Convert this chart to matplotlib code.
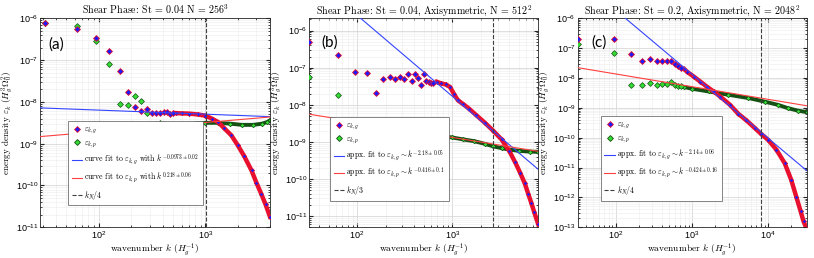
import numpy as np
import matplotlib
matplotlib.use("Agg")
import matplotlib.pyplot as plt
from matplotlib.lines import Line2D
from matplotlib.ticker import LogLocator, NullFormatter, FixedLocator

plt.rcParams["font.family"] = ["Liberation Sans", "DejaVu Sans"]
plt.rcParams["mathtext.fontset"] = "cm"
plt.rcParams["axes.formatter.use_mathtext"] = True

K0 = 10 * np.pi  # lowest shell wavenumber

# ---------------- panel (a): St = 0.04, N = 256^3 (shells n = 1..16, then dense part)
a_gas_low = [7.8e-7, 5.6e-7, 3.4e-7, 1.64e-7, 5.5e-8, 1.68e-8, 7.6e-9, 6.2e-9,
             6.6e-9, 5.5e-9, 5.3e-9, 5.5e-9, 5.8e-9, 5.7e-9, 5.0e-9, 5.5e-9]
a_prs_low = [7.6e-7, 6.6e-7, 2.85e-7, 7.9e-8, 9.0e-9, 8.2e-9, 1.35e-8, 1.05e-8,
             5.4e-9, 2.6e-9, 3.0e-9, 3.2e-9, 2.95e-9, 2.6e-9, 2.3e-9, 2.8e-9]
a_gas_k = [530, 600, 700, 850, 1000, 1150, 1310, 1500, 1750, 2000, 2300, 2700,
           3000, 3330, 3650, 4021]
a_gas = [5.4e-9, 5.3e-9, 5.25e-9, 5.0e-9, 4.68e-9, 3.98e-9, 3.31e-9, 2.34e-9,
         1.58e-9, 9.3e-10, 5.1e-10, 2.29e-10, 1.17e-10, 6.3e-11, 3.55e-11, 1.78e-11]
a_prs_k = [530, 600, 700, 850, 1000, 1300, 1700, 2200, 2800, 3400, 3800, 4021]
a_prs = [2.82e-9, 2.88e-9, 2.95e-9, 3.09e-9, 3.16e-9, 3.16e-9, 3.02e-9, 2.82e-9,
         2.82e-9, 3.02e-9, 3.31e-9, 3.63e-9]

# ---------------- panel (b): St = 0.04, axisymmetric, N = 512^2
b_gas_low = [4.8e-7, 2.2e-7, 7.9e-8, 7.4e-8, 2.07e-8, 5.0e-8, 5.6e-8, 5.0e-8,
             5.8e-8, 4.9e-8, 6.9e-8, 4.3e-8, 6.9e-8, 5.2e-8, 3.5e-8, 6.9e-8,
             4.5e-8, 4.0e-8, 3.85e-8, 3.85e-8]
b_prs_low = [5.8e-8, 1.8e-8, 1.28e-9, 1.39e-9, 1.1e-9, 9.2e-10, 2.2e-9, 1.57e-9,
             1.64e-9, 1.7e-9, 1.8e-9, 1.64e-9, 1.7e-9, 1.64e-9, 1.64e-9, 2.4e-9,
             1.41e-9, 1.41e-9, 1.41e-9, 1.5e-9]
b_gas_k = [690, 760, 850, 950, 1050, 1150, 1300, 1500, 1800, 2200, 2700, 3300,
           4000, 4600, 5200, 5800, 6300, 6800, 7300, 8040]
b_gas = [4.17e-8, 3.8e-8, 3.55e-8, 3.02e-8, 1.9e-8, 1.32e-8, 1.05e-8, 7.9e-9,
         5.2e-9, 3.3e-9, 2.0e-9, 1.17e-9, 5.6e-10, 2.8e-10, 1.45e-10, 7.6e-11,
         4.0e-11, 2.24e-11, 1.26e-11, 6.0e-12]
b_prs_k = [700, 850, 1000, 1300, 1700, 2200, 2700, 3300, 4000, 5000, 6500, 8040]
b_prs = [1.45e-9, 1.38e-9, 1.32e-9, 1.17e-9, 1.05e-9, 8.9e-10, 7.6e-10, 6.8e-10,
         6.2e-10, 5.75e-10, 5.5e-10, 5.4e-10]

# ---------------- panel (c): St = 0.2, axisymmetric, N = 2048^2 (shells at odd multiples of K0)
c_gas_low = [2.1e-7, 2.0e-7, 6.3e-8, 3.8e-8, 4.25e-8, 3.65e-8, 3.65e-8, 3.65e-8,
             3.8e-8, 2.9e-8, 2.54e-8, 2.23e-8]
c_prs_low = [1.38e-7, 7.1e-8, 5.9e-9, 5.9e-9, 6.8e-9, 6.0e-9, 6.2e-9, 6.3e-9,
             7.4e-9, 5.8e-9, 5.5e-9, 5.4e-9]
c_gas_k = [790, 861, 1052, 1285, 1570, 1919, 2344, 3162, 4064, 5200, 6699, 8000,
           10000, 12850, 16520, 20140, 23440, 26730, 29240, 32120]
c_gas = [2.0e-8, 1.62e-8, 1.12e-8, 7.6e-9, 5.1e-9, 3.55e-9, 2.4e-9, 1.26e-9,
         6.3e-10, 3.8e-10, 2.1e-10, 1.38e-10, 8.5e-11, 4.0e-11, 1.41e-11, 3.9e-12,
         1.07e-12, 3.5e-13, 1.58e-13, 8.9e-14]
c_prs_k = [790, 1000, 1650, 3000, 5500, 9000, 13500, 18200, 24500, 32120]
c_prs = [5.0e-9, 4.37e-9, 3.55e-9, 2.75e-9, 2.14e-9, 1.62e-9, 1.26e-9, 9.8e-10,
         8.1e-10, 7.2e-10]

# power-law fits: (exponent, log10 amplitude)
a_fits = [(-0.0973, -8.002), (0.218, -9.147)]
b_fits = [(-2.18, -1.227), (-0.416, -7.63)]
c_fits = [(-2.14, -1.454), (-0.424, -7.018)]

BLUE = "#1a1aff"
RED = "#e8102e"
GREEN = "#33dd33"
DKGREEN = "#155015"
SERIF = "cmr10"

fig = plt.figure(figsize=(8.14, 2.58), dpi=100)


def panel(rect, k_low, gas_low, prs_low, gk, gv, pk, pv, fits, k_dash, xlim, ylim,
          title, tag, tag_xy, labels, leg_xy):
    ax = fig.add_axes(rect)
    ax.set_xscale("log")
    ax.set_yscale("log")

    # pressure first, gas on top
    ax.plot(pk, pv, "-", color=DKGREEN, lw=2.8, zorder=2)
    ax.plot(pk, pv, "D", ms=2.3, mfc=GREEN, mec=DKGREEN, mew=0.5, zorder=2.5)
    ax.plot(k_low, prs_low, "D", ms=3.0, mfc=GREEN, mec=DKGREEN, mew=0.5, ls="none", zorder=3)
    ax.plot(gk, gv, "-", color=RED, lw=3.2, zorder=3.5)
    ax.plot(gk, gv, "D", ms=2.2, mfc=BLUE, mec=RED, mew=0.5, zorder=3.6)
    ax.plot(k_low, gas_low, "D", ms=3.0, mfc=BLUE, mec=RED, mew=0.6, ls="none", zorder=4)

    xs = np.array(xlim)
    (pg, ag), (pp, ap) = fits
    ax.plot(xs, 10 ** ag * xs ** pg, color="#3344ff", lw=0.8, zorder=5)
    ax.plot(xs, 10 ** ap * xs ** pp, color="#ff4040", lw=0.8, zorder=5)
    ax.axvline(k_dash, color="#404040", ls="--", lw=0.8, zorder=5)

    ax.set_xlim(xlim)
    ax.set_ylim(ylim)
    decades = [10.0 ** e for e in range(-14, 6)]
    ax.xaxis.set_major_locator(FixedLocator([d for d in decades if xlim[0] <= d <= xlim[1]]))
    ax.yaxis.set_major_locator(FixedLocator([d for d in decades if ylim[0] <= d <= ylim[1]]))
    ax.xaxis.set_minor_locator(LogLocator(base=10, subs=np.arange(2, 10), numticks=20))
    ax.yaxis.set_minor_locator(LogLocator(base=10, subs=np.arange(2, 10), numticks=20))
    ax.yaxis.set_minor_formatter(NullFormatter())
    ax.xaxis.set_minor_formatter(NullFormatter())
    ax.grid(True, which="major", color="#d0d0d0", lw=0.5)
    ax.grid(True, which="minor", color="#ececec", lw=0.4)
    ax.set_axisbelow(True)
    ax.tick_params(which="both", direction="in", top=True, right=True, labelsize=6.5,
                   color="#262626", pad=1.5)
    ax.tick_params(which="major", length=3)
    ax.tick_params(which="minor", length=1.5)
    for s in ax.spines.values():
        s.set_linewidth(0.6)
        s.set_color("#262626")

    ax.set_title(title, fontsize=7.2, family=SERIF, pad=3)
    ax.set_xlabel(r"wavenumber $k$ $(H_g^{-1})$", fontsize=6.8, family=SERIF, labelpad=0)
    ax.set_ylabel(r"energy density $\varepsilon_k$ $(H_g^3\Omega_0^2)$", fontsize=6.6,
                  family=SERIF, labelpad=0)
    ax.text(tag_xy[0], tag_xy[1], tag, transform=ax.transAxes, fontsize=11,
            ha="center", va="center", family="Lato")

    handles = [
        Line2D([], [], ls="none", marker="D", ms=3, mfc=BLUE, mec=RED, mew=0.6),
        Line2D([], [], ls="none", marker="D", ms=3, mfc=GREEN, mec=DKGREEN, mew=0.6),
        Line2D([], [], color="#3344ff", lw=0.8),
        Line2D([], [], color="#ff4040", lw=0.8),
        Line2D([], [], color="#404040", lw=0.8, ls="--"),
    ]
    leg = ax.legend(handles, labels, loc="lower left", bbox_to_anchor=leg_xy,
                    prop={"family": SERIF, "size": 5.6}, fancybox=False,
                    framealpha=1, edgecolor="#555555", handlelength=1.3,
                    handletextpad=0.3, labelspacing=0.35, borderpad=0.5)
    leg.get_frame().set_linewidth(0.5)
    return ax


nA = np.arange(1, len(a_gas_low) + 1)
nB = np.arange(1, len(b_gas_low) + 1)
mC = np.arange(1, len(c_gas_low) + 1)

panel([0.0495, 0.1190, 0.2822, 0.8101], K0 * nA, a_gas_low, a_prs_low,
      a_gas_k, a_gas, a_prs_k, a_prs, a_fits, K0 * 128 / 4,
      (28.5, K0 * 128), (1e-11, 1e-6),
      r"Shear Phase: St = 0.04 N = 256$^{3}$", "(a)", (0.068, 0.873),
      [r"$\varepsilon_{k,g}$", r"$\varepsilon_{k,p}$",
       r"curve fit to $\varepsilon_{k,g}$ with $k^{-0.0973\pm0.02}$",
       r"curve fit to $\varepsilon_{k,p}$ with $k^{0.218\pm0.06}$",
       r"$k_N/4$"], (0.103, 0.086))

panel([0.380, 0.1190, 0.2813, 0.8101], K0 * nB, b_gas_low, b_prs_low,
      b_gas_k, b_gas, b_prs_k, b_prs, b_fits, K0 * 256 / 3,
      (K0, K0 * 256), (5e-12, 2.15e-6),
      r"Shear Phase: St = 0.04, Axisymmetric, N = 512$^{2}$", "(b)", (0.088, 0.882),
      [r"$\varepsilon_{k,g}$", r"$\varepsilon_{k,p}$",
       r"appx. fit to $\varepsilon_{k,g}\sim k^{-2.18\pm0.05}$",
       r"appx. fit to $\varepsilon_{k,p}\sim k^{-0.416\pm0.1}$",
       r"$k_N/3$"], (0.073, 0.108))

panel([0.7097, 0.1190, 0.2813, 0.8101], K0 * (2 * mC - 1), c_gas_low, c_prs_low,
      c_gas_k, c_gas, c_prs_k, c_prs, c_fits, K0 * 1024 / 4,
      (K0, K0 * 1024), (1e-13, 1e-6),
      r"Shear Phase: St = 0.2, Axisymmetric, N = 2048$^{2}$", "(c)", (0.095, 0.882),
      [r"$\varepsilon_{k,g}$", r"$\varepsilon_{k,p}$",
       r"appx. fit to $\varepsilon_{k,g}\sim k^{-2.14\pm0.06}$",
       r"appx. fit to $\varepsilon_{k,p}\sim k^{-0.424\pm0.16}$",
       r"$k_N/4$"], (0.083, 0.108))

fig.savefig("out.png", dpi=100)
